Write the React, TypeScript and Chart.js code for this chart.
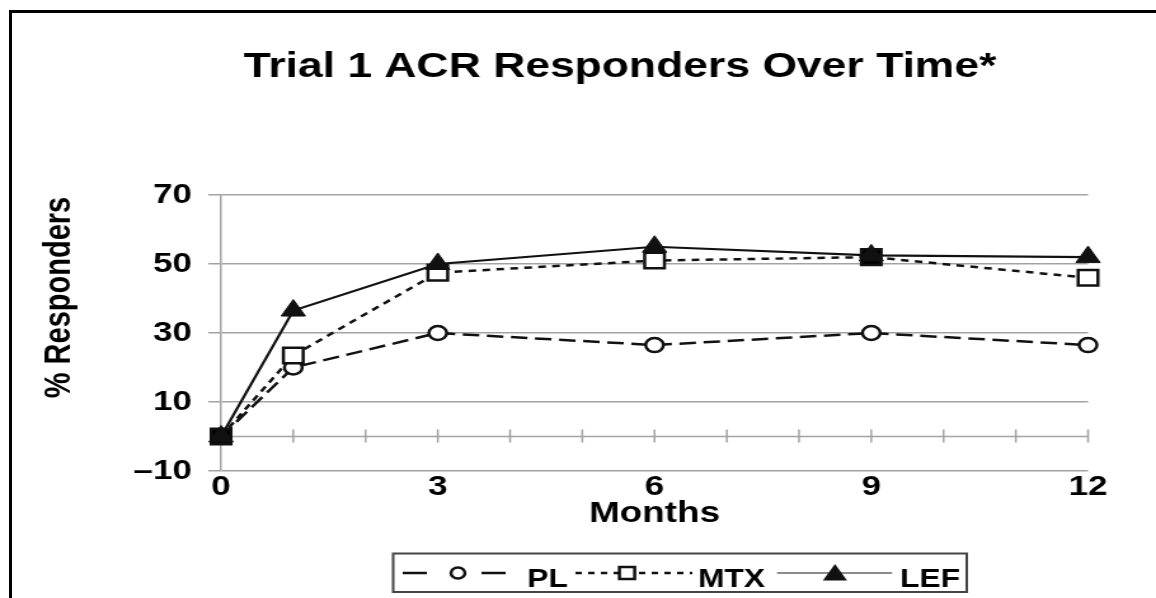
import React, { useEffect, useRef } from 'react';
import { Chart, registerables } from 'chart.js';

Chart.register(...registerables);

// ---- data ----
const months = [0, 1, 3, 6, 9, 12];
const plValues = [0, 20, 30, 26.5, 30, 26.5];
const mtxValues = [0, 23.5, 47.5, 51, 52, 46];
const lefValues = [0, 36.5, 50, 55, 52.5, 52];
const seriesNames = ['PL', 'MTX', 'LEF'];
const monthTickMarks = [0, 1, 2, 3, 4, 5, 6, 7, 8, 9, 10, 11, 12];
const xLabelMonths = [0, 3, 6, 9, 12];
const yTickValues = [-10, 10, 30, 50, 70];
const titleText = 'Trial 1 ACR Responders Over Time*';
const yTitleText = '% Responders';
const xTitleText = 'Months';

// ---- layout / style ----
const W = 910;
const H = 598;
const STRETCH = 1156 / W;
const FONT = '"Liberation Sans", Arial, Helvetica, sans-serif';
const GRID = '#a3a3a3';
const INK = '#111111';

function drawCircle(ctx: CanvasRenderingContext2D, x: number, y: number, r: number) {
  ctx.beginPath();
  ctx.arc(x, y, r, 0, Math.PI * 2);
  ctx.fillStyle = '#fff';
  ctx.fill();
  ctx.stroke();
}

function drawSquare(ctx: CanvasRenderingContext2D, x: number, y: number, s: number) {
  ctx.beginPath();
  ctx.rect(x - s / 2, y - s / 2, s, s);
  ctx.fillStyle = '#fff';
  ctx.fill();
  ctx.stroke();
}

function drawTriangle(ctx: CanvasRenderingContext2D, x: number, y: number, r: number) {
  ctx.beginPath();
  for (let i = 0; i < 3; i++) {
    const a = (i * 2 * Math.PI) / 3;
    const px = x + Math.sin(a) * r;
    const py = y - Math.cos(a) * r;
    if (i === 0) ctx.moveTo(px, py);
    else ctx.lineTo(px, py);
  }
  ctx.closePath();
  ctx.fillStyle = INK;
  ctx.fill();
}

const decorPlugin = {
  id: 'decor',
  beforeDatasetsDraw(chart: any) {
    const { ctx, scales } = chart;
    const x = scales.x;
    const y = scales.y;
    const y0 = y.getPixelForValue(0);
    ctx.save();
    ctx.strokeStyle = GRID;
    ctx.lineWidth = 1.5;
    ctx.beginPath();
    ctx.moveTo(x.getPixelForValue(monthTickMarks[0]), y0);
    ctx.lineTo(x.getPixelForValue(monthTickMarks[monthTickMarks.length - 1]), y0);
    monthTickMarks.forEach((m) => {
      const px = x.getPixelForValue(m);
      ctx.moveTo(px, y0 - 7);
      ctx.lineTo(px, y0 + 6);
    });
    ctx.stroke();
    ctx.restore();
  },
  afterDraw(chart: any) {
    const { ctx, chartArea } = chart;
    ctx.save();
    ctx.fillStyle = '#000';

    // main title
    ctx.font = `bold 35px ${FONT}`;
    ctx.textAlign = 'center';
    ctx.textBaseline = 'alphabetic';
    ctx.fillText(titleText, 488, 77);

    // y title
    ctx.save();
    ctx.translate(47, 297.5);
    ctx.rotate(-Math.PI / 2);
    ctx.font = `bold 29px ${FONT}`;
    ctx.textAlign = 'center';
    ctx.textBaseline = 'middle';
    ctx.fillText(yTitleText, 0, 0);
    ctx.restore();

    // x title
    ctx.font = `bold 29px ${FONT}`;
    ctx.textAlign = 'center';
    ctx.textBaseline = 'middle';
    ctx.fillText(xTitleText, (chartArea.left + chartArea.right) / 2, 514);

    // legend box
    ctx.strokeStyle = '#444';
    ctx.lineWidth = 2;
    ctx.strokeRect(309.5, 553.5, 451.5, 38.5);

    const ly = 573;
    ctx.strokeStyle = INK;
    ctx.lineWidth = 2.5;
    // PL
    ctx.setLineDash([]);
    ctx.beginPath();
    ctx.moveTo(317, ly);
    ctx.lineTo(336, ly);
    ctx.moveTo(379, ly);
    ctx.lineTo(398, ly);
    ctx.stroke();
    drawCircle(ctx, 360.5, ly, 5.5);
    // MTX
    ctx.setLineDash([5, 5]);
    ctx.beginPath();
    ctx.moveTo(453, ly);
    ctx.lineTo(545, ly);
    ctx.stroke();
    ctx.setLineDash([]);
    drawSquare(ctx, 493.6, ly, 12);
    // LEF
    ctx.strokeStyle = '#666';
    ctx.lineWidth = 1.5;
    ctx.beginPath();
    ctx.moveTo(611.7, ly);
    ctx.lineTo(702.2, ly);
    ctx.stroke();
    drawTriangle(ctx, 657.3, ly + 2, 11);

    ctx.fillStyle = '#000';
    ctx.font = `bold 25px ${FONT}`;
    ctx.textAlign = 'left';
    ctx.textBaseline = 'alphabetic';
    ctx.fillText(seriesNames[0], 415, 587);
    ctx.fillText(seriesNames[1], 549.5, 587);
    ctx.fillText(seriesNames[2], 708.5, 587);
    ctx.restore();
  },
};

export default function App() {
  const ref = useRef<HTMLCanvasElement | null>(null);

  useEffect(() => {
    if (!ref.current) return;
    const toPts = (vals: number[]) => months.map((m, i) => ({ x: m, y: vals[i] }));
    const chart = new Chart(ref.current, {
      type: 'line',
      data: {
        datasets: [
          {
            label: seriesNames[0],
            data: toPts(plValues),
            borderColor: INK,
            borderWidth: 2.5,
            borderDash: [13, 6],
            pointStyle: 'circle',
            pointRadius: 7,
            pointBorderWidth: 2.5,
            pointBorderColor: INK,
            pointBackgroundColor: '#fff',
            tension: 0,
            clip: false,
            order: 3,
          },
          {
            label: seriesNames[1],
            data: toPts(mtxValues),
            borderColor: INK,
            borderWidth: 2.5,
            borderDash: [6, 5],
            pointStyle: 'rect',
            pointRadius: 11,
            pointBorderWidth: 2.5,
            pointBorderColor: INK,
            pointBackgroundColor: ['#000', '#fff', '#fff', '#fff', '#000', '#fff'],
            tension: 0,
            clip: false,
            order: 2,
          },
          {
            label: seriesNames[2],
            data: toPts(lefValues),
            borderColor: INK,
            borderWidth: 2.2,
            pointStyle: 'triangle',
            pointRadius: 11,
            pointBorderWidth: 1,
            pointBorderColor: INK,
            pointBackgroundColor: INK,
            tension: 0,
            clip: false,
            order: 1,
          },
        ] as any,
      },
      options: {
        responsive: false,
        animation: false,
        devicePixelRatio: 1,
        layout: { padding: { top: 195, left: 0, right: W - 856.5, bottom: H - 471 - 40 } },
        plugins: {
          legend: { display: false },
          title: { display: false },
          tooltip: { enabled: false },
        },
        scales: {
          x: {
            type: 'linear',
            min: 0,
            max: 12,
            afterBuildTicks: (s: any) => {
              s.ticks = xLabelMonths.map((v) => ({ value: v }));
            },
            afterFit: (s: any) => {
              s.height = 40;
            },
            grid: { display: false, drawTicks: false },
            border: { display: false },
            ticks: {
              padding: 0,
              autoSkip: false,
              maxRotation: 0,
              color: '#000',
              font: { family: FONT, size: 27.5, weight: 'bold' },
              callback: (v: any) => String(v),
            },
          },
          y: {
            min: -10,
            max: 70,
            afterBuildTicks: (s: any) => {
              s.ticks = yTickValues.map((v) => ({ value: v }));
            },
            afterFit: (s: any) => {
              s.width = 174;
            },
            grid: { color: GRID, lineWidth: 1.5, tickLength: 10, drawTicks: true },
            border: { display: true, color: GRID, width: 1.5 },
            ticks: {
              padding: 13,
              color: '#000',
              font: { family: FONT, size: 27.5, weight: 'bold' },
              callback: (v: any) => (v < 0 ? '\u2013' + Math.abs(v) : String(v)),
            },
          },
        },
      } as any,
      plugins: [decorPlugin],
    });
    return () => chart.destroy();
  }, []);

  return (
    <div style={{ position: 'absolute', left: 0, top: 0, width: 1156, height: 598, overflow: 'hidden', background: '#fff' }}>
      <div
        style={{
          position: 'absolute',
          left: 9,
          top: 10,
          right: 0,
          bottom: 0,
          borderLeft: '3px solid #000',
          borderTop: '3px solid #000',
        }}
      />
      <canvas
        ref={ref}
        width={W}
        height={H}
        style={{
          position: 'absolute',
          left: 0,
          top: 0,
          width: W,
          height: H,
          transform: `scaleX(${STRETCH})`,
          transformOrigin: '0 0',
        }}
      />
    </div>
  );
}
